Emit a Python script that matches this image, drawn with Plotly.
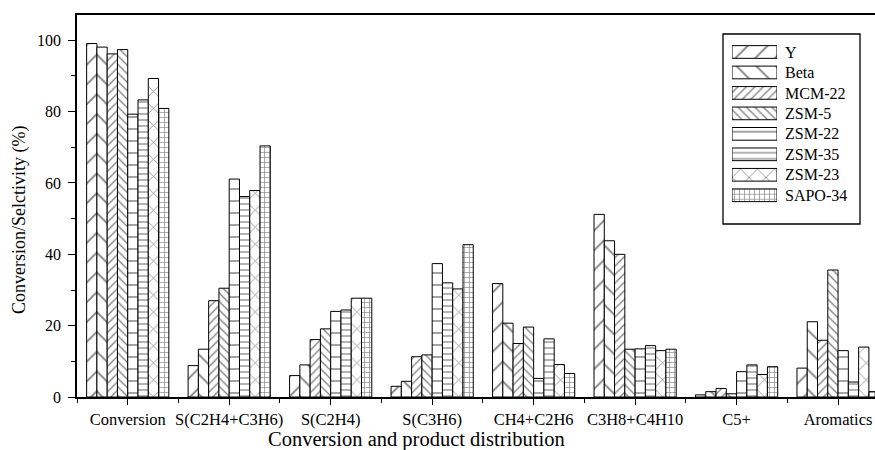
import plotly.graph_objects as go

# Reaction groups on the x axis
categories = ["Conversion", "S(C2H4+C3H6)", "S(C2H4)", "S(C3H6)",
              "CH4+C2H6", "C3H8+C4H10", "C5+", "Aromatics"]

# Zeolite catalysts (one bar series each)
catalysts = ["Y", "Beta", "MCM-22", "ZSM-5", "ZSM-22", "ZSM-35", "ZSM-23", "SAPO-34"]

# Conversion / selectivity values (%) for each catalyst, in category order
y_vals      = [99.1,  8.8,  6.0,  3.0, 31.8, 51.2, 0.6,  8.1]
beta_vals   = [98.1, 13.4,  9.0,  4.4, 20.7, 43.8, 1.5, 21.1]
mcm22_vals  = [96.2, 27.0, 16.1, 11.3, 15.0, 40.0, 2.4, 15.9]
zsm5_vals   = [97.4, 30.5, 19.1, 11.8, 19.6, 13.4, 0.9, 35.6]
zsm22_vals  = [79.3, 61.1, 24.0, 37.4,  5.2, 13.5, 7.1, 13.0]
zsm35_vals  = [83.3, 56.2, 24.4, 32.0, 16.3, 14.4, 9.0,  4.2]
zsm23_vals  = [89.3, 57.9, 27.7, 30.3,  9.1, 13.0, 6.3, 14.0]
sapo34_vals = [80.9, 70.4, 27.7, 42.7,  6.6, 13.4, 8.5,  1.5]

series = [y_vals, beta_vals, mcm22_vals, zsm5_vals,
          zsm22_vals, zsm35_vals, zsm23_vals, sapo34_vals]

# Hatch styles per catalyst: (shape, tile size, solidity)
hatches = [("/", 14, 0.13), ("\\", 14, 0.13), ("/", 6, 0.22), ("\\", 6, 0.22),
           ("-", 12, 0.12), ("-", 6, 0.2), ("x", 12, 0.12), ("+", 5, 0.24)]

FONT = "Liberation Serif"
W, H = 875, 450
L, R, T, B = 77, 0, 15, 53
plot_w, plot_h = W - L - R, H - T - B


def px_x(x):
    return (x - L) / plot_w


def px_y(y):
    return (H - B - y) / plot_h


fig = go.Figure()
xpos = list(range(len(categories)))
for name, vals, (shape, size, sol) in zip(catalysts, series, hatches):
    fig.add_trace(go.Bar(
        x=xpos, y=vals, name=name, showlegend=False,
        marker=dict(color="white", line=dict(color="black", width=1),
                    pattern=dict(shape=shape, size=size, solidity=sol,
                                 fgcolor="black", bgcolor="white")),
    ))

# Key: hatched swatches drawn as horizontal bars on an inset axis pair
fig.add_trace(go.Bar(
    x=[1] * len(catalysts), y=list(range(len(catalysts))), orientation="h",
    xaxis="x2", yaxis="y2", showlegend=False, width=0.62, hoverinfo="skip",
    marker=dict(color="white", line=dict(color="black", width=1),
                pattern=dict(shape=[h[0] for h in hatches],
                             size=[h[1] for h in hatches],
                             solidity=[h[2] for h in hatches],
                             fgcolor="black", bgcolor="white")),
))

fig.update_layout(
    width=W, height=H,
    margin=dict(l=L, r=R, t=T, b=B),
    paper_bgcolor="white", plot_bgcolor="white",
    barmode="group", bargap=0.19, bargroupgap=0,
    font=dict(family=FONT, color="black", size=16),
    xaxis=dict(
        range=[-0.5, 7.364], tickvals=xpos, ticktext=categories,
        showline=True, linecolor="black", linewidth=1.5, mirror=True,
        ticks="outside", ticklen=6, tickwidth=1.3, tickcolor="black",
        minor=dict(dtick=0.5, tick0=-0.5, ticks="outside", ticklen=4,
                   tickwidth=1.3, tickcolor="black"),
        showgrid=False, zeroline=False, tickfont=dict(size=16.5),
        ticklabelstandoff=0,
    ),
    yaxis=dict(
        range=[0, 107.1], dtick=20, tick0=0,
        showline=True, linecolor="black", linewidth=1.5, mirror=False,
        ticks="outside", ticklen=7, tickwidth=1.3, tickcolor="black",
        minor=dict(dtick=10, ticks="outside", ticklen=4, tickwidth=1.3,
                   tickcolor="black"),
        showgrid=False, zeroline=False, tickfont=dict(size=16),
        ticklabelstandoff=4,
    ),
    xaxis2=dict(domain=[px_x(732), px_x(777)], range=[0, 1], anchor="y2",
                visible=False, fixedrange=True),
    yaxis2=dict(domain=[px_y(205.5), px_y(41.75)], range=[7.5, -0.5],
                anchor="x2", side="right", tickvals=list(range(len(catalysts))),
                ticktext=catalysts, showline=False, showgrid=False,
                zeroline=False, ticks="", tickfont=dict(size=16),
                ticklabelstandoff=7, fixedrange=True),
    shapes=[dict(type="rect", xref="paper", yref="paper",
                 x0=px_x(723), x1=px_x(860), y0=px_y(224), y1=px_y(34),
                 line=dict(color="black", width=1.3), fillcolor="rgba(0,0,0,0)",
                 layer="below")],
    annotations=[
        dict(text="Conversion and product distribution", xref="paper", yref="paper",
             x=px_x(416), y=px_y(440), xanchor="center", yanchor="middle",
             showarrow=False, font=dict(size=20.5)),
        dict(text="Conversion/Selctivity (%)", xref="paper", yref="paper",
             x=px_x(19), y=px_y(220), xanchor="center", yanchor="middle",
             textangle=-90, showarrow=False, font=dict(size=18)),
    ],
)

fig.write_html("out.html")
